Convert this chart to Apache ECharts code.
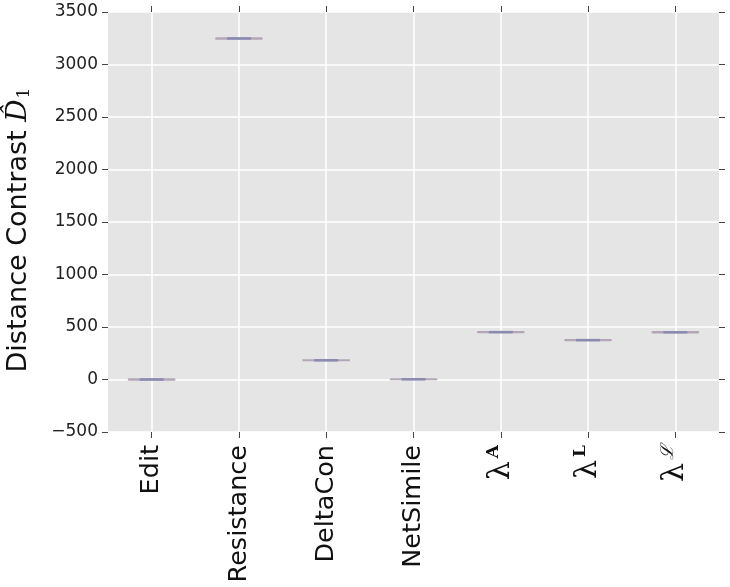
<!DOCTYPE html>
<html><head><meta charset="utf-8">
<script src="https://cdn.jsdelivr.net/npm/echarts@6/dist/echarts.min.js"></script>
<style>html,body{margin:0;padding:0;background:#fff}#c{width:730px;height:587px}</style>
</head><body><div id="c"></div>
<script>
const categories = ['Edit','Resistance','DeltaCon','NetSimile','lamA','lamL','lamCal'];
// [min, Q1, median, Q3, max]
const boxValues = [
  [-4, -2, 0, 2, 4],
  [3244, 3246, 3248, 3250, 3252],
  [180, 181, 183, 185, 186],
  [0, 1, 2, 3, 4],
  [447, 449, 451, 453, 455],
  [371, 373, 375, 377, 379],
  [446, 448, 450, 452, 454]
];
const yTicks = {min: -500, max: 3500, interval: 500};

const labelMap = {
  lamA: '{lam|λ}{supB|A}',
  lamL: '{lam|λ}{supB|L}',
  lamCal: '{lam|λ}{supC|ℒ}'
};
const rich = {
  lam: {fontFamily: 'DejaVu Serif', fontSize: 30, color: '#111'},
  supB: {fontFamily: 'DejaVu Serif', fontWeight: 'bold', fontSize: 17, color: '#111', padding: [0,0,14,3]},
  supC: {fontFamily: 'DejaVu Serif', fontStyle: 'italic', fontSize: 18, color: '#111', padding: [0,0,14,3]}
};

const chart = echarts.init(document.getElementById('c'), null, {renderer: 'canvas'});
chart.setOption({
  animation: false,
  backgroundColor: '#fff',
  grid: {left: 108, right: 11, top: 12, bottom: 155, show: true, backgroundColor: '#e5e5e5', borderWidth: 0,
    containLabel: false, outerBoundsMode: 'none'},
  xAxis: [{
    type: 'category', data: categories, position: 'bottom',
    axisLine: {show: false, onZero: false},
    axisTick: {show: true, alignWithLabel: true, length: 6, lineStyle: {color: '#444'}},
    splitLine: {show: true, alignWithLabel: true, lineStyle: {color: '#fff', width: 1.5}, interval: 0},
    axisLabel: {
      rotate: 90, interval: 0, margin: 13, fontFamily: 'DejaVu Sans', fontSize: 25.5, color: '#111',
      formatter: v => labelMap[v] || v, rich: rich
    }
  }, {
    type: 'category', data: categories, position: 'top',
    axisLine: {show: false, onZero: false},
    axisTick: {show: true, alignWithLabel: true, length: 6, lineStyle: {color: '#444'}},
    axisLabel: {show: false}
  }],
  yAxis: [{
    type: 'value', min: yTicks.min, max: yTicks.max, interval: yTicks.interval,
    axisLine: {show: false},
    axisTick: {show: true, length: 6, lineStyle: {color: '#444'}},
    splitLine: {show: true, lineStyle: {color: '#fff', width: 1.5}},
    axisLabel: {fontFamily: 'DejaVu Sans', fontSize: 17, color: '#222', margin: 10,
      formatter: v => (v < 0 ? '\u2212' + Math.abs(v) : String(v))},
    name: '{t|Distance Contrast }{d|D\u0302}{s|1}',
    nameLocation: 'middle', nameGap: 75, nameRotate: 90,
    nameTextStyle: {
      fontFamily: 'DejaVu Sans', fontSize: 27, color: '#111', padding: [0, 16, 0, 0],
      rich: {
        t: {fontFamily: 'DejaVu Sans', fontSize: 27, color: '#111'},
        d: {fontFamily: 'DejaVu Serif', fontStyle: 'italic', fontSize: 28, color: '#111'},
        s: {fontFamily: 'DejaVu Serif', fontSize: 17, color: '#111', padding: [12,0,0,1]}
      }
    }
  }, {
    type: 'value', min: yTicks.min, max: yTicks.max, interval: yTicks.interval, position: 'right',
    axisLine: {show: false},
    axisTick: {show: true, length: 6, lineStyle: {color: '#444'}},
    splitLine: {show: false},
    axisLabel: {show: false}
  }],
  series: [{
    type: 'boxplot',
    data: boxValues,
    boxWidth: [46, 46],
    itemStyle: {color: '#b8a8bc', borderColor: '#b4a6b8', borderWidth: 1.5},
    z: 3
  }, {
    type: 'custom',
    data: boxValues.map((b, i) => [i, b[2]]),
    z: 4,
    renderItem: (params, api) => {
      const p = api.coord([api.value(0), api.value(1)]);
      return {type: 'line', shape: {x1: p[0] - 12, y1: p[1], x2: p[0] + 12, y2: p[1]},
        style: {stroke: '#8a8ab2', lineWidth: 2.5}};
    }
  }]
});
</script></body></html>
